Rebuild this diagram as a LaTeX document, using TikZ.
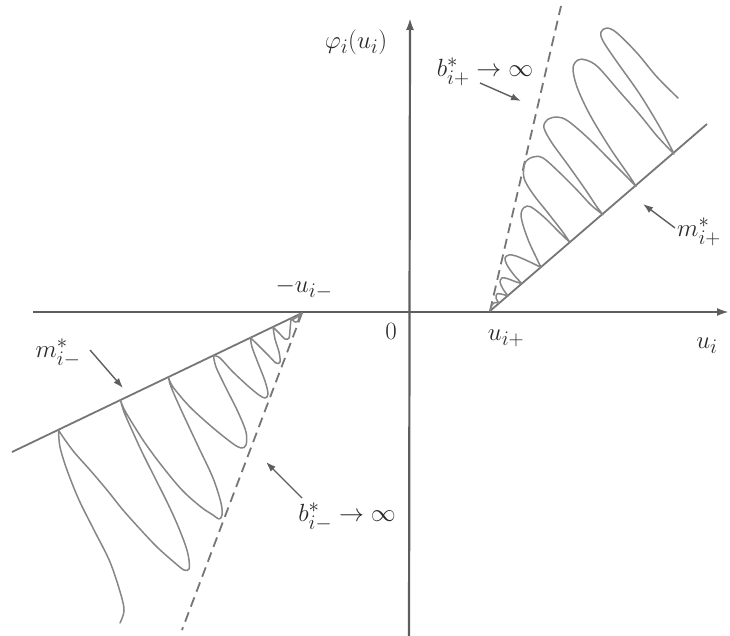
\documentclass[tikz,border=0pt]{standalone}
\usepackage{amsmath}
\usetikzlibrary{arrows.meta}
\definecolor{axisc}{HTML}{5E5E5E}
\definecolor{linec}{HTML}{767676}
\definecolor{curvec}{HTML}{868686}
\definecolor{txtc}{HTML}{2A2A2A}
\tikzset{
  axisline/.style={draw=axisc, line width=2.2pt, -{Latex[length=12pt,width=8pt]}},
  bound/.style={draw=linec, line width=1.8pt},
  dashbound/.style={draw=linec, line width=1.8pt, dash pattern=on 10pt off 6pt},
  wave/.style={draw=curvec, line width=1.5pt, line join=round, line cap=round},
  ptr/.style={draw=axisc, line width=1.4pt, -{Latex[length=10pt,width=7pt]}},
  lbl/.style={text=txtc, font=\fontsize{28}{32}\selectfont, inner sep=0pt},
  sm/.style={smooth, tension=0.55},
}
\begin{document}
\begin{tikzpicture}[x=1pt,y=-1pt]
\clip (0,0) rectangle (730,636);
\fill[white] (0,0) rectangle (730,636);
% axes
\coordinate (xs) at (33,312);
\coordinate (xe) at (729,312);
\coordinate (ys) at (409,640);
\coordinate (ye) at (410,18);
\draw[axisline] (xs) -- (xe);
\draw[axisline] (ys) -- (ye);
% boundary lines
\coordinate (up) at (490,311);
\coordinate (mp) at (707,124);
\coordinate (bp) at (561,6);
\coordinate (um) at (302,313);
\coordinate (mm) at (12,452);
\coordinate (bm) at (182,630);
\draw[bound] (up) -- (mp);
\draw[dashbound] (up) -- (bp);
\draw[bound] (um) -- (mm);
\draw[dashbound] (um) -- (bm);
% right wave
\draw[wave]
 plot[sm] coordinates {(490,311) (492,305) (495,302.5) (499,303.3)}
 -- plot[sm] coordinates {(499,303.3) (496,298) (497,294) (501,294) (508,296)}
 -- plot[sm] coordinates {(508,296) (503,289) (500,282) (502,278) (507,278.5) (515,281.5) (522,283.7)}
 -- plot[sm] coordinates {(522,283.7) (514,275) (507,265) (505,258) (509,255) (516,256) (530,262) (541,267.5)}
 -- plot[sm] coordinates {(541,267.5) (536,257) (529,242) (523,225) (521,214) (524,207.5) (531,207) (545,218) (559,232) (570,242.5)}
 -- plot[sm] coordinates {(570,242.5) (562,231) (548,213) (533,194) (524,178) (525,163) (533,157) (543,158) (560,173) (577,190) (591,205) (603,214.7)}
 -- plot[sm] coordinates {(603,214.7) (597,207) (585,189) (568,165) (552,143) (544,128) (547,120) (557,117) (568,121) (588,138) (608,158) (625,175) (636,186.5)}
 -- plot[sm] coordinates {(636,186.5) (630,177) (610,148) (590,115) (577,87) (573,68) (578,60) (586,60) (598,67) (619,91) (640,115) (657,136) (674,154)}
 -- plot[sm] coordinates {(674,154) (670,146) (658,124) (639,93) (617,62) (603,41) (601,32) (607,28) (617,33) (637,53) (657,77) (678,98)};
% left wave
\draw[wave]
 plot[sm] coordinates {(120,623) (124,611) (121,595) (110,562) (94,530) (79,500) (67,470) (60,447) (58.5,430)}
 -- plot[sm] coordinates {(58.5,430) (63,437) (74,452) (90,470) (107,490) (123,510) (140,529) (157,547) (175,563) (184,570) (189,569) (189,560) (186,547) (178,526) (168,504) (155,478) (142,452) (131,428) (124,412) (120.5,400.3)}
 -- plot[sm] coordinates {(120.5,400.3) (124,409) (131,421) (145,443) (162,466) (182,490) (201,507) (213,515) (219,519) (222,515) (221,503) (213,478) (198,446) (183,414) (174,394) (170,384) (168.5,377.2)}
 -- plot[sm] coordinates {(168.5,377.2) (173,387) (190,407) (212,427) (232,443) (241,448) (246,445) (246,432) (238,412) (226,388) (216,367) (213.5,355.6)}
 -- plot[sm] coordinates {(213.5,355.6) (220,358) (232,371) (248,386) (259,395) (265,398) (268,394) (265,381) (258,363) (252,347) (250.5,337.8)}
 -- plot[sm] coordinates {(250.5,337.8) (257,344) (268,355) (276,363) (280,362) (279,352) (275,339) (273,327)}
 -- plot[sm] coordinates {(273,327) (279,333) (285,339) (289,338) (290,330) (291,318.3)}
 -- plot[sm] coordinates {(291,318.3) (295,322) (298,321) (299,317) (302,313) (297,317) (292,320)};
% labels
\node[lbl] (phi) at (356,42) {$\varphi_i(u_i)$};
\node[lbl] (bplus) at (485,72) {$b^*_{i+}\to\infty$};
\node[lbl, anchor=west] (mplus) at (677,232) {$m^*_{i+}$};
\node[lbl] (umin) at (304,289) {$-u_{i-}$};
\node[lbl] (zero) at (391,331) {$0$};
\node[lbl] (uplus) at (506,338) {$u_{i+}$};
\node[lbl] (ui) at (707,346) {$u_i$};
\node[lbl] (mminus) at (58,353) {$m^*_{i-}$};
\node[lbl] (bminus) at (347,517) {$b^*_{i-}\to\infty$};
% pointers
\coordinate (bpS) at (480,83);
\coordinate (bpE) at (521,101);
\coordinate (mpS) at (675,228);
\coordinate (mpE) at (643,204);
\coordinate (mmS) at (90,350);
\coordinate (mmE) at (123,388);
\coordinate (bmS) at (302,498);
\coordinate (bmE) at (266,462);
\draw[ptr] (bpS) -- (bpE);
\draw[ptr] (mpS) -- (mpE);
\draw[ptr] (mmS) -- (mmE);
\draw[ptr] (bmS) -- (bmE);
\end{tikzpicture}
\end{document}
